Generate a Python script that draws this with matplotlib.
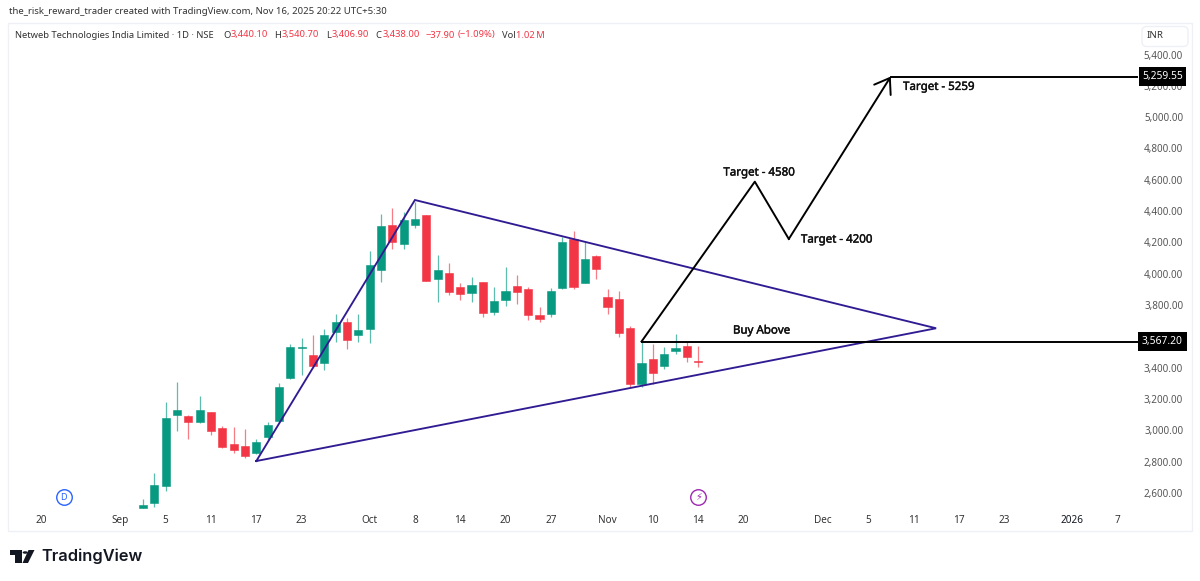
import matplotlib
matplotlib.use("Agg")
import matplotlib.pyplot as plt
import matplotlib.patheffects as pe
from matplotlib.patches import Polygon, Rectangle, Circle, FancyBboxPatch

plt.rcParams['font.family'] = ['Noto Sans', 'DejaVu Sans']

# ---- data ----
opens = [2502, 2534, 2645, 3098, 3094, 3053, 3115, 3013, 2911, 2898,
         2853, 2960, 3060, 3332, 3527, 3481, 3432, 3626, 3694, 3611,
         3645, 4022, 4311, 4190, 4311, 4375, 3967, 4003, 3917, 3877,
         3947, 3756, 3832, 3922, 3905, 3737, 3743, 3907, 4220, 3943,
         4113, 3852, 3837, 3652, 3294, 3454, 3413, 3509, 3539, 3440.1]
closes = [2523, 2651, 3077, 3132, 3053, 3128, 2996, 2896, 2875, 2836,
          2924, 3034, 3277, 3530, 3533, 3413, 3609, 3690, 3577, 3643,
          4056, 4307, 4201, 4341, 4352, 3954, 4022, 3884, 3869, 3926,
          3751, 3824, 3892, 3885, 3735, 3711, 3892, 4201, 3915, 4094,
          4030, 3787, 3624, 3294, 3428, 3366, 3488, 3526, 3466, 3438]
highs = [2562, 2726, 3179, 3309, 3100, 3219, 3120, 3026, 3023, 3009,
         2947, 3051, 3300, 3551, 3590, 3609, 3647, 3743, 3716, 3745,
         4143, 4380, 4418, 4392, 4460, 4375, 4120, 4071, 3943, 3977,
         3947, 3917, 4041, 3990, 3915, 3790, 3907, 4237, 4275, 4205,
         4118, 3903, 3890, 3666, 3565, 3551, 3530, 3615, 3565, 3540.7]
lows = [2502, 2512, 2615, 2998, 2947, 3050, 2970, 2889, 2854, 2825,
        2850, 2930, 3050, 3325, 3355, 3400, 3385, 3566, 3521, 3564,
        3556, 3949, 4156, 4156, 4290, 3954, 3820, 3866, 3832, 3821,
        3726, 3737, 3796, 3807, 3705, 3694, 3722, 3905, 3903, 3940,
        3964, 3745, 3594, 3275, 3275, 3296, 3390, 3488, 3438, 3406.9]

price_ticks = [2600, 2800, 3000, 3200, 3400, 3600, 3800, 4000, 4200, 4400,
               4600, 4800, 5000, 5200, 5400]
time_ticks = [-9, -2, 2, 6, 10, 14, 20, 24, 28, 32, 36, 41, 45, 49, 53, 60, 64, 68, 72, 76, 82, 86]
time_labels = ['20', 'Sep', '5', '11', '17', '23', 'Oct', '8', '14', '20', '27', 'Nov', '10', '14',
               '20', 'Dec', '5', '11', '17', '23', '2026', '7']

triangle_x = [10, 24, 70, 10]
triangle_y = [2804, 4471, 3652, 2804]
path_x = [44, 54, 57, 66]
path_y = [3567.2, 4588, 4222, 5259.55]
last_levels = [3567.2, 5259.55]
level_starts = [44, 66]

UP = '#089981'
DOWN = '#F23645'
PURPLE = '#311B92'
W, H = 1200, 581


def fx(px):
    return px / W


def fy(py):
    return 1 - py / H


fig = plt.figure(figsize=(12, 5.81), dpi=100, facecolor='white')

# pane frame
fig.add_artist(Rectangle((fx(8), fy(531)), (1192 - 8) / W, (531 - 23) / H, transform=fig.transFigure,
                         fc='none', ec='#EEF0F5', lw=1))

ax = fig.add_axes([fx(8), fy(512), (1138 - 8) / W, (512 - 23) / H])
ax.patch.set_alpha(0)
for s in ax.spines.values():
    s.set_visible(False)

# scales: 11.33 px per bar (bar 0 at px 143), 0.1566 px per rupee (2600 at px 493)
ax.set_xlim((8 - 143) / 11.33, (1138 - 143) / 11.33)
ax.set_ylim(2600 + (493 - 512) / 0.1566, 2600 + (493 - 23) / 0.1566)

for i, (o, c, h, l) in enumerate(zip(opens, closes, highs, lows)):
    col = UP if c >= o else DOWN
    ax.vlines(i, l, h, color=col, lw=0.9, alpha=0.65, zorder=2)
    ax.bar(i, abs(c - o), bottom=min(o, c), width=0.72, color=col, edgecolor=col, lw=0.4, zorder=3)

ax.plot(triangle_x, triangle_y, color=PURPLE, lw=1.35, zorder=4, solid_joinstyle='miter')
ax.plot(path_x[:-1], path_y[:-1], color='black', lw=1.4, zorder=5)
ax.annotate('', xy=(path_x[-1], path_y[-1]), xytext=(path_x[-2], path_y[-2]),
            arrowprops=dict(arrowstyle='->,head_length=0.72,head_width=0.5', color='black', lw=1.4,
                            shrinkA=0, shrinkB=0, mutation_scale=14), zorder=5)
xmax = ax.get_xlim()[1]
for start, lev in zip(level_starts, last_levels):
    ax.plot([start, xmax], [lev, lev], color='black', lw=1.4, zorder=5)

ax.scatter([-7], [2574], s=125, fc='white', ec='#2962FF', lw=1, zorder=6)
ax.text(-7, 2574, 'D', color='#2962FF', fontsize=6.5, ha='center', va='center', zorder=7)
ax.scatter([49], [2574], s=125, fc='white', ec='#9C27B0', lw=1, zorder=6)
ax.text(49, 2574, '\u26A1', color='#9C27B0', fontsize=7, ha='center', va='center', zorder=7,
        family=['DejaVu Sans'])

anno = dict(color='#111111', fontsize=8.3, va='center', ha='center', zorder=8,
            path_effects=[pe.withStroke(linewidth=0.3, foreground='#111111')])
ax.text(54.6, 3634, 'Buy Above', **anno)
ax.text(54.4, 4643, 'Target - 4580', **anno)
ax.text(61.25, 4215, 'Target - 4200', **anno)
ax.text(70.25, 5190, 'Target - 5259', **anno)

ax.yaxis.tick_right()
ax.set_yticks(price_ticks)
ax.set_yticklabels([f'{v:,.2f}' for v in price_ticks])
ax.tick_params(axis='y', length=0, pad=32.5, labelsize=7.1, labelcolor='#555555')
for t in ax.get_yticklabels():
    t.set_ha('right')
ax.set_xticks(time_ticks)
ax.set_xticklabels(time_labels)
ax.tick_params(axis='x', length=0, pad=2.5, labelsize=7.2, labelcolor='#333333')
ax.get_xticklabels()[time_labels.index('2026')].set_fontweight('bold')
ax.get_xticklabels()[time_labels.index('2026')].set_color('#131722')

for lev in last_levels:
    ax.annotate(f'{lev:,.2f}', xy=(1.0, lev), xycoords=('axes fraction', 'data'),
                xytext=(24.5, 0), textcoords='offset pixels', ha='center', va='center',
                color='white', fontsize=7.4, zorder=10, annotation_clip=False,
                bbox=dict(boxstyle='square,pad=0.35', fc='black', ec='black', lw=0))

# header
fig.text(fx(9), fy(12), 'the_risk_reward_trader created with TradingView.com, Nov 16, 2025 20:22 UTC+5:30',
         fontsize=6.9, color='#333333', va='center', ha='left')
legend_parts = [
    (15, 'Netweb Technologies India Limited \u00b7 1D \u00b7 NSE', '#333333'),
    (223, 'O', '#333333'), (231, '3,440.10', DOWN),
    (274, 'H', '#333333'), (282, '3,540.70', DOWN),
    (326, 'L', '#333333'), (332, '3,406.90', DOWN),
    (375, 'C', '#333333'), (383, '3,438.00', DOWN),
    (426, '\u221237.90', DOWN), (458, '(\u22121.09%)', DOWN),
    (502, 'Vol', '#333333'), (516, '1.02\u2009M', DOWN),
]
for px, txt, col in legend_parts:
    fig.text(fx(px), fy(35), txt, fontsize=6.75, color=col, va='center', ha='left')

# INR box
fig.add_artist(FancyBboxPatch((fx(1142), fy(46.5)), 46 / W, 20 / H, transform=fig.transFigure,
                              boxstyle='round,pad=0,rounding_size=0.004', fc='white', ec='#EEF0F5', lw=1,
                              mutation_aspect=2))
fig.text(fx(1155), fy(36), 'INR', fontsize=7.0, color='#333333', ha='center', va='center')

# logo
logo_t = [(10, 550), (22, 550), (22, 563), (15, 563), (15, 554.5), (10, 554.5)]
logo_s = [(28.5, 550), (34.5, 550), (28, 563), (22.5, 563)]
for pts in (logo_t, logo_s):
    fig.add_artist(Polygon([(fx(a), fy(b)) for a, b in pts], closed=True, transform=fig.transFigure,
                           fc='#131722', ec='none'))
fig.add_artist(Circle((fx(25.2), fy(552.5)), 2.6 / W, transform=fig.transFigure, fc='#131722', ec='none'))
fig.text(fx(41), fy(556.5), 'TradingView', fontsize=11.8, fontweight='semibold', color='#131722',
         family=['Inter', 'DejaVu Sans'], ha='left', va='center')

fig.savefig('out.png', dpi=100, facecolor='white')
